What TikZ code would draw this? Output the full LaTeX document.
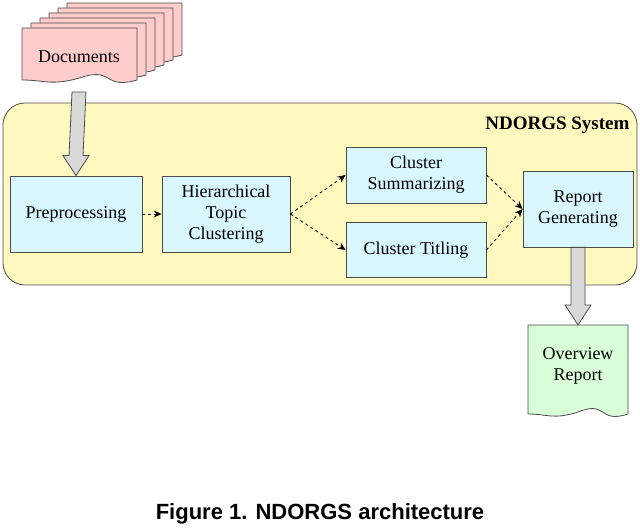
\documentclass[tikz,border=0pt]{standalone}
\usepackage{fontspec}
\setmainfont{Liberation Serif}
\newfontfamily\capfont{Liberation Sans}
\usetikzlibrary{positioning,calc,arrows.meta}
\newcommand{\docpage}[5]{% x y w h fill
  \filldraw[draw=black!70,fill=#5,thick] (#1,#2) -- ++(#3,0) -- ++(0,-#4+8)
    .. controls ++(-0.3*#3,-10) and ++(0.3*#3,12) .. ++(-0.5*#3,2)
    .. controls ++(-0.25*#3,-8) and ++(0.2*#3,0) .. ++(-0.5*#3,-2) -- cycle;}
\begin{document}
\begin{tikzpicture}[x=1pt,y=1pt,
    box/.style={rectangle, draw=black!70, thick, fill=blue!20!cyan!15, align=center,
      font=\fontsize{18}{21}\selectfont, inner sep=2pt},
    flow/.style={->, dashed, thick, >={Stealth[length=8pt,width=7pt]}},
    bigarrow/.style={draw=black!70, fill=black!15, thick},
  ]
  \useasboundingbox (0,0) rectangle (640,-529);
  % system frame
  \filldraw[draw=black!70, thick, fill=orange!20!yellow!25, rounded corners=22pt]
    (3,-103) rectangle (637,-285);
  \node (sys) [anchor=north east, font=\bfseries\fontsize{19}{22}\selectfont] at (633,-113) {NDORGS System};
  % input documents
  \foreach \i in {5,4,3,2,1} {\docpage{22+9*\i}{-28+5*\i}{115}{60}{red!20}}
  \docpage{22}{-28}{115}{60}{red!20}
  \node (docs) [font=\fontsize{18}{21}\selectfont] at (79,-57) {Documents};
  \coordinate (docsBot) at (79,-92);
  % stages
  \node (prep) [box, minimum width=132pt, minimum height=76pt] at (76,-214) {Preprocessing};
  \node (htc) [box, minimum width=128pt, minimum height=76pt] at (226,-214) {Hierarchical\\Topic\\Clustering};
  \node (sum) [box, minimum width=140pt, minimum height=56pt] at (416,-175) {Cluster\\Summarizing};
  \node (tit) [box, minimum width=140pt, minimum height=55pt] at (416,-250) {Cluster Titling};
  \node (rep) [box, minimum width=110pt, minimum height=76pt] at (578,-209) {Report\\Generating};
  % output report
  \docpage{528}{-325}{100}{97}{green!15}
  \node (out) [font=\fontsize{18}{21}\selectfont, align=center] at (578,-366) {Overview\\Report};
  \coordinate (outTop) at (578,-325);
  % thick arrows
  \filldraw[bigarrow] ($(docsBot)+(-7,0)$) -- ($(prep.north)+(-7,20)$) -- ($(prep.north)+(-13,20)$)
    -- (prep.north) -- ($(prep.north)+(13,20)$) -- ($(prep.north)+(7,20)$) -- ($(docsBot)+(7,0)$) -- cycle;
  \filldraw[bigarrow] ($(rep.south)+(-7,0)$) -- ($(outTop)+(-7,20)$) -- ($(outTop)+(-13,20)$)
    -- (outTop) -- ($(outTop)+(13,20)$) -- ($(outTop)+(7,20)$) -- ($(rep.south)+(7,0)$) -- cycle;
  % dashed flow
  \draw[flow] (prep) -- (htc);
  \draw[flow] (htc.east) -- (sum.west);
  \draw[flow] (htc.east) -- (tit.west);
  \draw[flow] (sum.east) -- (rep.west);
  \draw[flow] (tit.east) -- (rep.west);
  % caption
  \node (cap) [font=\capfont\bfseries\fontsize{22}{26}\selectfont] at (320,-514) {Figure 1. NDORGS architecture};
\end{tikzpicture}
\end{document}
